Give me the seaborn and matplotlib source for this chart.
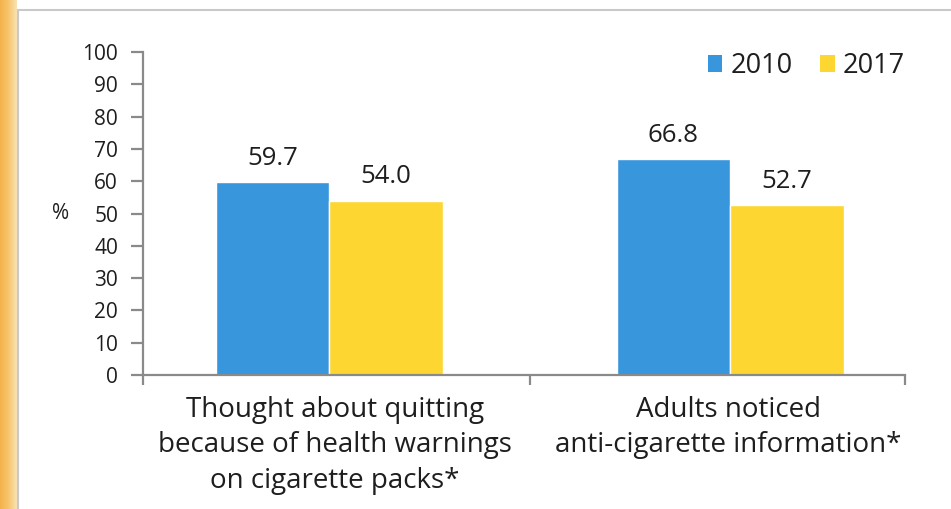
import numpy as np
import pandas as pd
import seaborn as sns
import matplotlib.pyplot as plt
from matplotlib.patches import Rectangle, Patch

categories = ['Thought about quitting\nbecause of health warnings\non cigarette packs*',
              'Adults noticed\nanti-cigarette information*']
years = ['2010', '2017']
values_2010 = [59.7, 66.8]
values_2017 = [54.0, 52.7]
yticks = [0, 10, 20, 30, 40, 50, 60, 70, 80, 90, 100]

blue = '#3896DC'
yellow = '#FDD632'
axis_grey = '#8a8a8a'
text_col = '#1e1e1e'

df = pd.DataFrame({
    'category': categories * 2,
    'year': [years[0]] * 2 + [years[1]] * 2,
    'value': values_2010 + values_2017,
})

sns.set_style('white')
plt.rcParams['font.family'] = ['Open Sans', 'DejaVu Sans']

fig = plt.figure(figsize=(9.51, 5.09), dpi=100)

# orange strip on the left edge
strip = fig.add_axes([0, 0, 0.017, 1])
grad = np.linspace(0, 1, 50).reshape(1, -1)
strip.imshow(grad, aspect='auto', cmap=plt.matplotlib.colors.LinearSegmentedColormap.from_list(
    'o', ['#F4B24A', '#F7C56E', '#FBE3B4']), extent=[0, 1, 0, 1])
strip.axis('off')

# light frame around the chart
fig.patches.append(Rectangle((0.019, -0.01), 1.0, 0.99, transform=fig.transFigure,
                             fill=False, edgecolor='#c9c9c9', linewidth=1.5))

ax = fig.add_axes([0.1504, 0.2633, 0.8012, 0.6345])
sns.barplot(data=df, x='category', y='value', hue='year', palette=[blue, yellow],
            width=0.566, gap=0, saturation=1, ax=ax, legend=False)

for cont in ax.containers:
    ax.bar_label(cont, fmt='%.1f', padding=8, fontsize=18.5, color=text_col)

ax.set_ylim(0, 100)
ax.set_xlim(-0.464, 1.436)
ax.set_yticks(yticks)
ax.set_yticklabels([str(t) for t in yticks], fontsize=15, color=text_col)
ax.set_xticks([-0.464, 0.5, 1.436])
ax.set_xticklabels(['', '', ''])
ax.set_xlabel('')
ax.set_ylabel('')

for side in ['top', 'right']:
    ax.spines[side].set_visible(False)
for side in ['left', 'bottom']:
    ax.spines[side].set_color(axis_grey)
    ax.spines[side].set_linewidth(1.6)
ax.tick_params(axis='both', direction='out', width=1.6, color=axis_grey,
               left=True, bottom=True)
ax.tick_params(axis='y', length=9, pad=9)
ax.tick_params(axis='x', length=7)

ax.text(-0.108, 50, '%', transform=ax.get_yaxis_transform(), ha='center', va='center',
        fontsize=15, color=text_col)

for i, cat in enumerate(categories):
    ax.text(i + (0.015 if i == 0 else -0.005), -6.5, cat, ha='center', va='top',
            fontsize=20, color=text_col, linespacing=1.35)

handles = [Patch(facecolor=blue, edgecolor='none'), Patch(facecolor=yellow, edgecolor='none')]
ax.legend(handles, years, loc='upper right', bbox_to_anchor=(1.032, 1.075), ncol=2,
          frameon=False, fontsize=19.5, handlelength=0.55, handleheight=0.55,
          handletextpad=0.3, columnspacing=1.0, labelcolor=text_col)

fig.savefig('out.png', dpi=100)
